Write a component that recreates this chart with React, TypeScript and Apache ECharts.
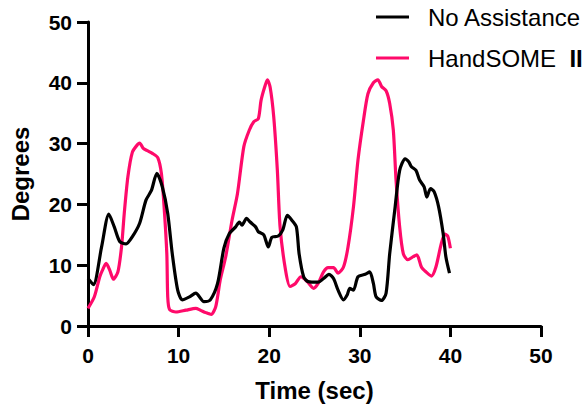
import React, { useEffect, useRef } from "react";
import * as echarts from "echarts";

const xTicks = [0, 10, 20, 30, 40, 50];
const yTicks = [0, 10, 20, 30, 40, 50];

const seriesNames = ["No Assistance", "HandSOME  II"];

const noAssistTime = [0, 0.6, 1.5, 2.3, 2.9, 3.5, 4.2, 4.9, 5.7, 6.4, 7.0, 7.6, 8.2, 8.8, 9.3, 9.9, 10.4, 11.2, 11.9, 12.8, 13.5, 14.3, 15.0, 15.6, 16.3, 16.7, 17.0, 17.5, 17.9, 18.5, 18.8, 19.4, 19.9, 20.3, 21.0, 21.5, 22.0, 22.5, 23.0, 23.3, 23.8, 24.3, 25.4, 26.0, 26.6, 27.1, 27.6, 28.2, 28.6, 28.9, 29.3, 29.8, 30.6, 31.1, 31.5, 31.8, 32.4, 32.9, 33.3, 33.9, 34.4, 35.0, 35.4, 35.7, 36.2, 36.6, 37.1, 37.4, 37.8, 38.2, 38.7, 39.2, 39.5, 39.9];
const noAssistDeg = [7.8, 6.8, 13.0, 18.4, 16.3, 13.9, 13.5, 14.7, 16.9, 20.7, 22.3, 25.1, 22.9, 18.5, 11.9, 5.9, 4.3, 4.8, 5.4, 4.0, 4.3, 7.0, 12.8, 15.2, 16.3, 17.1, 16.6, 17.7, 17.1, 16.3, 15.5, 15.0, 13.0, 14.6, 14.8, 15.8, 18.2, 17.4, 16.3, 11.9, 8.1, 7.3, 7.2, 7.8, 8.5, 7.8, 5.9, 4.3, 5.1, 6.2, 5.9, 8.1, 8.5, 8.9, 7.0, 4.8, 4.2, 5.4, 11.9, 19.6, 25.6, 27.5, 27.0, 26.2, 25.6, 24.0, 22.9, 21.2, 22.6, 22.1, 19.6, 15.2, 11.4, 8.7];

const handsomeTime = [0, 0.7, 1.3, 1.6, 2.0, 2.4, 2.8, 3.3, 3.7, 4.0, 4.4, 4.9, 5.5, 5.7, 6.1, 6.6, 7.1, 7.7, 8.1, 8.4, 8.7, 8.8, 9.0, 9.7, 10.8, 11.9, 12.4, 13.0, 13.6, 14.1, 14.6, 15.2, 15.9, 16.5, 17.2, 17.8, 18.3, 18.8, 19.1, 19.5, 19.8, 20.1, 20.5, 20.9, 21.2, 21.8, 22.3, 22.9, 23.5, 24.2, 24.9, 25.4, 26.0, 26.5, 27.1, 27.6, 28.2, 28.7, 29.3, 29.8, 30.4, 30.9, 31.5, 32.0, 32.4, 32.9, 33.3, 33.7, 34.0, 34.4, 34.8, 35.3, 35.9, 36.3, 36.8, 37.3, 37.9, 38.4, 39.0, 39.4, 39.7, 40.0];
const handsomeDeg = [2.9, 4.8, 8.1, 9.2, 10.3, 9.2, 7.7, 8.9, 13.0, 18.5, 24.5, 28.6, 29.9, 30.1, 29.2, 28.8, 28.4, 27.7, 25.1, 19.6, 11.9, 4.8, 2.7, 2.3, 2.6, 2.9, 2.6, 2.2, 1.9, 3.2, 7.6, 11.4, 17.4, 21.8, 29.5, 32.2, 33.6, 34.1, 37.1, 39.3, 40.5, 39.3, 34.4, 25.6, 16.3, 9.2, 6.5, 7.0, 8.1, 7.3, 6.2, 7.0, 8.9, 9.6, 9.6, 8.7, 9.7, 13.0, 19.6, 27.3, 33.8, 38.2, 40.0, 40.5, 39.4, 38.7, 36.6, 32.2, 24.0, 16.3, 11.9, 10.9, 11.4, 11.7, 9.7, 8.9, 8.2, 9.7, 13.6, 15.1, 14.8, 12.8];

const FONT = "'Liberation Sans', Arial, sans-serif";
const PINK = "#ff0a6a";

export default function App() {
  const ref = useRef<HTMLDivElement>(null);
  useEffect(() => {
    if (!ref.current) return;
    const chart = echarts.init(ref.current, null, { renderer: "svg" });
    const axisCommon = {
      type: "value" as const,
      min: xTicks[0],
      max: xTicks[xTicks.length - 1],
      interval: 10,
      splitLine: { show: false },
      axisLine: { show: true, lineStyle: { color: "#000", width: 3 } },
      axisTick: { show: true, length: 11, lineStyle: { color: "#000", width: 3 } },
      nameLocation: "middle" as const,
      nameTextStyle: { fontFamily: FONT, fontWeight: "bold", fontSize: 24, color: "#000" },
    };
    chart.setOption({
      animation: false,
      grid: { left: 85, right: 45, top: 22, bottom: 82, containLabel: false },
      legend: {
        orient: "vertical",
        left: 371,
        top: 0,
        itemWidth: 33,
        itemHeight: 3,
        itemGap: 17,
        icon: "rect",
        formatter: (name: string) => {
          const parts = name.split("  ");
          return parts.length === 2 ? parts[0] + "  {b|" + parts[1] + "}" : name;
        },
        textStyle: {
          fontFamily: FONT,
          fontSize: 24,
          color: "#000",
          padding: [0, 0, 0, 14],
          rich: { b: { fontFamily: FONT, fontSize: 24, fontWeight: "bold", color: "#000" } },
        },
        data: seriesNames,
      },
      xAxis: {
        ...axisCommon,
        name: "Time (sec)",
        nameGap: 52,
        axisLabel: { margin: 19, fontFamily: FONT, fontWeight: "bold", fontSize: 21, color: "#000" },
      },
      yAxis: {
        ...axisCommon,
        min: yTicks[0],
        max: yTicks[yTicks.length - 1],
        name: "Degrees",
        nameGap: 56,
        axisLabel: { margin: 16, fontFamily: FONT, fontWeight: "bold", fontSize: 21, color: "#000" },
      },
      series: [
        {
          name: seriesNames[0],
          type: "line",
          smooth: 0.25,
          showSymbol: false,
          lineStyle: { color: "#000", width: 3.2 },
          itemStyle: { color: "#000" },
          data: noAssistTime.map((t, i) => [t, noAssistDeg[i]]),
          z: 3,
        },
        {
          name: seriesNames[1],
          type: "line",
          smooth: 0.25,
          showSymbol: false,
          lineStyle: { color: PINK, width: 3.2 },
          itemStyle: { color: PINK },
          data: handsomeTime.map((t, i) => [t, handsomeDeg[i]]),
          z: 2,
        },
      ],
    });
    return () => chart.dispose();
  }, []);
  return <div ref={ref} style={{ width: 586, height: 408, position: "absolute", left: 0, top: 0 }} />;
}
